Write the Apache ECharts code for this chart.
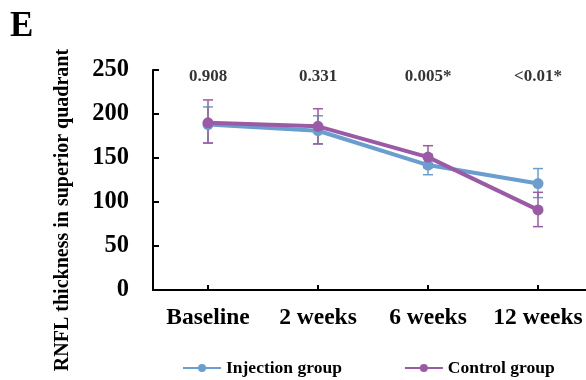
<!DOCTYPE html>
<html><head><meta charset="utf-8">
<script src="https://cdn.jsdelivr.net/npm/echarts@6/dist/echarts.min.js"></script>
<style>html,body{margin:0;padding:0;background:#fff}#c{width:586px;height:380px}</style>
</head><body><div id="c"></div>
<script>
var categories = ['Baseline', '2 weeks', '6 weeks', '12 weeks'];
var pValues = ['0.908', '0.331', '0.005*', '<0.01*'];
var injMean = [188, 181, 142, 121];
var injHigh = [208, 198, 154, 138];
var injLow  = [167, 166, 131, 105];
var ctlMean = [190, 186, 151, 91];
var ctlHigh = [216, 206, 164, 111];
var ctlLow  = [167, 166, 139, 72];
var yTicks = [0, 50, 100, 150, 200, 250];
var pLabelLevel = 243;
var yTitle = 'RNFL thickness in superior quadrant';

var FONT = '"Liberation Serif", "Times New Roman", serif';
var BLUE = '#6a9ecf', PURPLE = '#9b5aa6';

function errorSeries(name, low, high, color) {
  return {
    type: 'custom', name: name + ' error', z: 3,
    data: categories.map(function (c, i) { return [i, low[i], high[i]]; }),
    renderItem: function (params, api) {
      var lo = api.coord([api.value(0), api.value(1)]);
      var hi = api.coord([api.value(0), api.value(2)]);
      var w = 5;
      var st = { stroke: color, lineWidth: 1.5 };
      return { type: 'group', children: [
        { type: 'line', shape: { x1: hi[0], y1: hi[1], x2: lo[0], y2: lo[1] }, style: st },
        { type: 'line', shape: { x1: hi[0] - w, y1: hi[1], x2: hi[0] + w, y2: hi[1] }, style: st },
        { type: 'line', shape: { x1: lo[0] - w, y1: lo[1], x2: lo[0] + w, y2: lo[1] }, style: st }
      ]};
    },
    silent: true
  };
}

var chart = echarts.init(document.getElementById('c'));
chart.setOption({
  animation: false,
  backgroundColor: '#fff',
  title: { text: 'E', left: 5, top: 4, textStyle: { fontFamily: FONT, fontWeight: 'bold', fontSize: 35, color: '#000' } },
  graphic: [{
    type: 'text', x: 63, y: 210, rotation: Math.PI / 2,
    style: { text: yTitle, align: 'center', verticalAlign: 'middle',
      font: 'bold 20px ' + FONT, fill: '#000' }
  }],
  grid: { left: 153, top: 70, right: -7, bottom: 90, containLabel: false, outerBoundsMode: 'none' },
  legend: {
    data: ['Injection group', 'Control group'],
    left: 177, top: 354, itemWidth: 38, itemHeight: 10, itemGap: 62,
    textStyle: { fontFamily: FONT, fontWeight: 'bold', fontSize: 17.5, color: '#000' }
  },
  xAxis: {
    type: 'category', data: categories, boundaryGap: true,
    axisLine: { lineStyle: { color: '#000', width: 2 } },
    axisTick: { show: true, inside: true, alignWithLabel: true, length: 5, lineStyle: { color: '#000', width: 2 } },
    axisLabel: { interval: 0, fontFamily: FONT, fontWeight: 'bold', fontSize: 23.5, color: '#000', margin: 16 }
  },
  yAxis: {
    type: 'value', min: 0, max: 250, interval: 50,
    splitLine: { show: false },
    axisLine: { show: true, lineStyle: { color: '#000', width: 2 } },
    axisTick: { show: true, inside: true, length: 6, lineStyle: { color: '#000', width: 2 } },
    axisLabel: { fontFamily: FONT, fontWeight: 'bold', fontSize: 24.5, color: '#000', margin: 24,
      formatter: function (v) { return yTicks.indexOf(v) >= 0 ? String(v) : ''; } }
  },
  series: [
    errorSeries('Injection group', injLow, injHigh, BLUE),
    errorSeries('Control group', ctlLow, ctlHigh, PURPLE),
    { name: 'Injection group', type: 'line', data: injMean, z: 4, color: BLUE,
      symbol: 'circle', symbolSize: 11, lineStyle: { width: 4, color: BLUE }, itemStyle: { color: BLUE } },
    { name: 'Control group', type: 'line', data: ctlMean, z: 5, color: PURPLE,
      symbol: 'circle', symbolSize: 11, lineStyle: { width: 4, color: PURPLE }, itemStyle: { color: PURPLE } },
    { name: 'p', type: 'scatter', symbolSize: 0, silent: true,
      data: pValues.map(function (p, i) { return { value: [i, pLabelLevel], name: p }; }),
      label: { show: true, position: 'inside', formatter: function (d) { return d.name; },
        fontFamily: FONT, fontWeight: 'bold', fontSize: 17, color: '#000' } }
  ]
});
</script></body></html>
